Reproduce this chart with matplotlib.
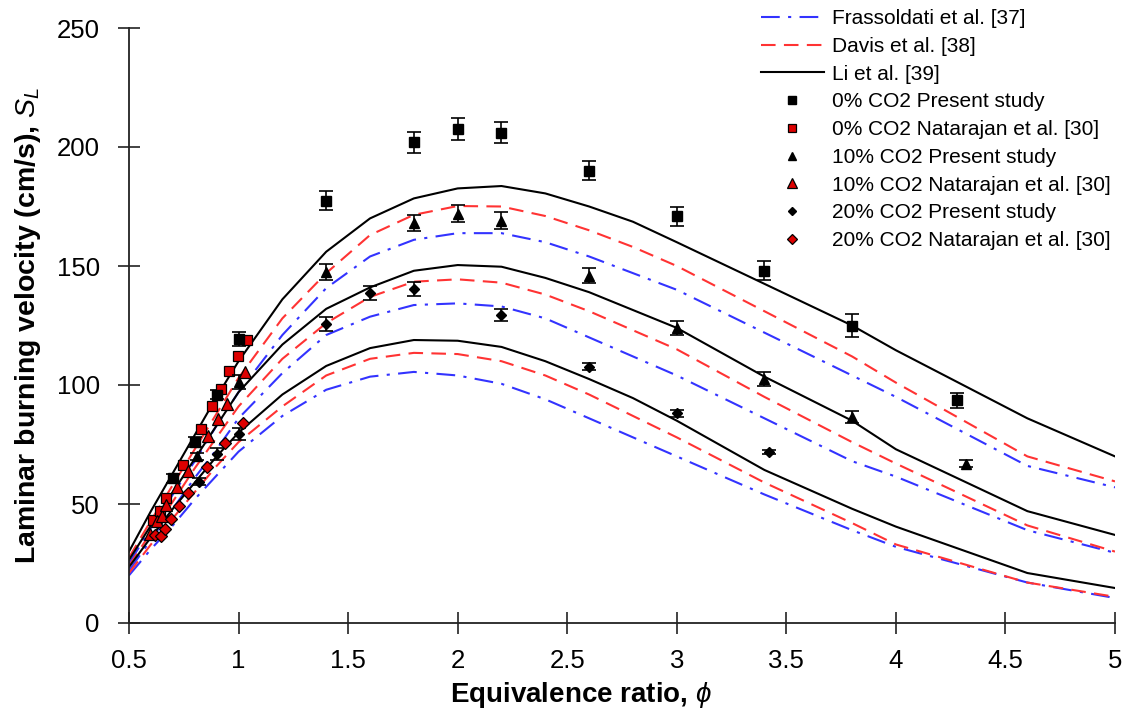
import matplotlib
matplotlib.use("Agg")
import matplotlib.pyplot as plt
from matplotlib.lines import Line2D
import numpy as np

plt.rcParams['font.family'] = ['Liberation Sans', 'DejaVu Sans']
plt.rcParams['mathtext.fontset'] = 'custom'
plt.rcParams['mathtext.it'] = 'Liberation Sans:italic'
plt.rcParams['mathtext.rm'] = 'Liberation Sans'

# ---- model curves (phi nodes) ----
phi_model = [0.5, 0.6, 0.7, 0.8, 0.9, 1.0, 1.2, 1.4, 1.6, 1.8, 2.0, 2.2, 2.4, 2.6, 2.8,
             3.0, 3.4, 3.8, 4.0, 4.6, 5.0]

li_0 = [30, 47, 63, 79, 95, 110, 136, 156, 170, 178.4, 182.6, 183.6, 180.5, 175, 168.6,
        160, 142.5, 125, 114.6, 86, 70]
davis_0 = [27.5, 43, 58, 73, 88, 103, 128, 147, 163, 171.5, 175.2, 175, 171, 165, 158,
           150, 131, 112, 101, 70, 59.5]
fras_0 = [25, 40, 54, 68, 83, 97, 121, 140.7, 154, 161, 163.8, 163.8, 160, 154, 147,
          140, 122, 104, 95, 66, 57]

li_10 = [26.5, 41, 55, 69, 83, 97, 117, 132, 141, 148, 150.4, 149.7, 145, 139, 131.5,
         124, 103.5, 85, 73, 47, 37]
davis_10 = [24, 38, 51, 65, 78, 91, 111, 126, 137, 143.4, 144.4, 143, 138, 131, 123,
            115, 95, 76, 67, 41, 30]
fras_10 = [22, 35, 48, 61, 73, 86, 105, 121, 128.7, 133.6, 134.3, 133, 128, 120, 112,
           104, 86, 68, 61.5, 39, 29.5]

li_20 = [23.5, 36, 48, 59, 70, 80, 96, 108, 115.5, 118.9, 118.6, 116, 110, 102.5, 94.5,
         85, 64.3, 48, 40.5, 21, 14.7]
davis_20 = [21, 33, 44, 55, 66, 76, 91, 104, 111, 113.5, 113, 110, 104, 96, 87,
            78, 59, 42, 33, 17, 11]
fras_20 = [20, 31, 41, 52, 62, 72, 87, 98, 103.5, 105.5, 104, 100.5, 94, 86, 78,
           70, 54, 39, 32, 17, 10.5]

# ---- present study data ----
phi_p0 = [0.7, 0.8, 0.9, 1.0, 1.4, 1.8, 2.0, 2.2, 2.6, 3.0, 3.4, 3.8, 4.28]
sl_p0 = [60.8, 76, 96, 119.3, 177.5, 202, 207.5, 206, 190, 171, 148, 125, 93.5]
err_p0 = [2, 2, 2, 3, 4, 4.5, 4.5, 4.5, 4, 4, 4, 5, 3]

phi_p10 = [0.81, 1.0, 1.4, 1.8, 2.0, 2.2, 2.6, 3.0, 3.4, 3.8, 4.32]
sl_p10 = [70, 101.4, 147.5, 168, 172, 169, 146, 124, 102.5, 86.5, 67]
err_p10 = [1.5, 3, 3.5, 3.5, 3.5, 3.5, 3, 3, 3, 2.5, 1.5]

phi_p20 = [0.82, 0.9, 1.0, 1.4, 1.6, 1.8, 2.2, 2.6, 3.0, 3.42]
sl_p20 = [59.4, 71, 79.4, 125.6, 138.6, 140.4, 129.4, 107.6, 88.2, 71.8]
err_p20 = [1.5, 2.5, 2.5, 3, 3, 3, 2.5, 1.5, 1.5, 1]

# ---- Natarajan et al. [30] ----
phi_n0 = [0.61, 0.64, 0.67, 0.745, 0.828, 0.877, 0.918, 0.957, 0.996, 1.04]
sl_n0 = [43.3, 47.2, 52.4, 66.4, 81.5, 91.2, 98.3, 105.9, 112.2, 119]

phi_n10 = [0.596, 0.626, 0.649, 0.669, 0.72, 0.77, 0.862, 0.904, 0.949, 1.03]
sl_n10 = [37.5, 43, 45, 49.6, 57.3, 64, 78.6, 85.6, 92, 105.6]

phi_n20 = [0.62, 0.645, 0.664, 0.69, 0.73, 0.77, 0.854, 0.938, 1.02]
sl_n20 = [37, 36.6, 39.4, 43.6, 49.2, 54.8, 65.4, 75.8, 84.2]

labels = ['Frassoldati et al. [37]', 'Davis et al. [38]', 'Li et al. [39]',
          '0% CO2 Present study', '0% CO2 Natarajan et al. [30]',
          '10% CO2 Present study', '10% CO2 Natarajan et al. [30]',
          '20% CO2 Present study', '20% CO2 Natarajan et al. [30]']

fig = plt.figure(figsize=(11.34, 7.18), dpi=100)
ax = fig.add_axes([129/1134, 1 - 623/718, (1115-129)/1134, (623-28)/718])

blue = '#3333ff'
red = '#ff3333'
natred = '#dd0000'
lw = 1.5
dashdot = (0, (9, 4, 1.5, 4))
dashed = (0, (7, 4))

for f, d, l in [(fras_0, davis_0, li_0), (fras_10, davis_10, li_10),
                (fras_20, davis_20, li_20)]:
    ax.plot(phi_model, f, color=blue, lw=lw, ls=dashdot)
    ax.plot(phi_model, d, color=red, lw=lw, ls=dashed)
    ax.plot(phi_model, l, color='black', lw=lw, ls='-')

eb_kw = dict(ecolor='black', elinewidth=1.2, capsize=5, capthick=1.2, ls='none')
ax.errorbar(phi_p0, sl_p0, yerr=err_p0, fmt='s', mfc='black', mec='black', ms=7, **eb_kw)
ax.plot(phi_n0, sl_n0, 's', mfc=natred, mec='black', mew=0.9, ms=7, ls='none')
ax.errorbar(phi_p10, sl_p10, yerr=err_p10, fmt='^', mfc='black', mec='black', ms=7, **eb_kw)
ax.plot(phi_n10, sl_n10, '^', mfc=natred, mec='black', mew=0.9, ms=8, ls='none')
ax.errorbar(phi_p20, sl_p20, yerr=err_p20, fmt='D', mfc='black', mec='black', ms=5, **eb_kw)
ax.plot(phi_n20, sl_n20, 'D', mfc=natred, mec='black', mew=0.9, ms=6, ls='none')

handles = [
    Line2D([], [], color=blue, lw=lw, ls=dashdot),
    Line2D([], [], color=red, lw=lw, ls=dashed),
    Line2D([], [], color='black', lw=lw, ls='-'),
    Line2D([], [], marker='s', color='black', ms=6, ls='none'),
    Line2D([], [], marker='s', mfc=natred, mec='black', mew=0.9, ms=6, ls='none'),
    Line2D([], [], marker='^', color='black', ms=6, ls='none'),
    Line2D([], [], marker='^', mfc=natred, mec='black', mew=0.9, ms=7, ls='none'),
    Line2D([], [], marker='D', color='black', ms=4.5, ls='none'),
    Line2D([], [], marker='D', mfc=natred, mec='black', mew=0.9, ms=5, ls='none'),
]

ax.set_xlim(0.5, 5)
ax.set_ylim(0, 250)
ax.set_xticks(np.arange(0.5, 5.01, 0.5))
ax.set_xticklabels(['0.5', '1', '1.5', '2', '2.5', '3', '3.5', '4', '4.5', '5'])
ax.set_yticks(np.arange(0, 251, 50))
for s in ['top', 'right']:
    ax.spines[s].set_visible(False)
for s in ['left', 'bottom']:
    ax.spines[s].set_linewidth(1.3)
    ax.spines[s].set_color('#222222')
ax.tick_params(axis='both', direction='inout', length=16, width=1.2, labelsize=18.5,
               colors='#222222', labelcolor='black')
ax.tick_params(axis='x', pad=11)
ax.tick_params(axis='y', pad=13)

ax.set_xlabel(r'Equivalence ratio, $\it{\phi}$', fontsize=20, fontweight='bold')
ax.xaxis.set_label_coords((581 - 129) / 986, (623 - 680) / 595)
ax.set_ylabel(r'Laminar burning velocity (cm/s), $S_L$', fontsize=20.5, fontweight='bold',
              labelpad=10)

leg = ax.legend(handles, labels, loc='upper left', bbox_to_anchor=(757/1134, 1 - 5/718),
                bbox_transform=fig.transFigure, frameon=False,
                fontsize=15, handlelength=3.0, handletextpad=0.4, labelspacing=0.42,
                borderaxespad=0.0, borderpad=0.2, numpoints=1)

fig.savefig('out.png', dpi=100)
